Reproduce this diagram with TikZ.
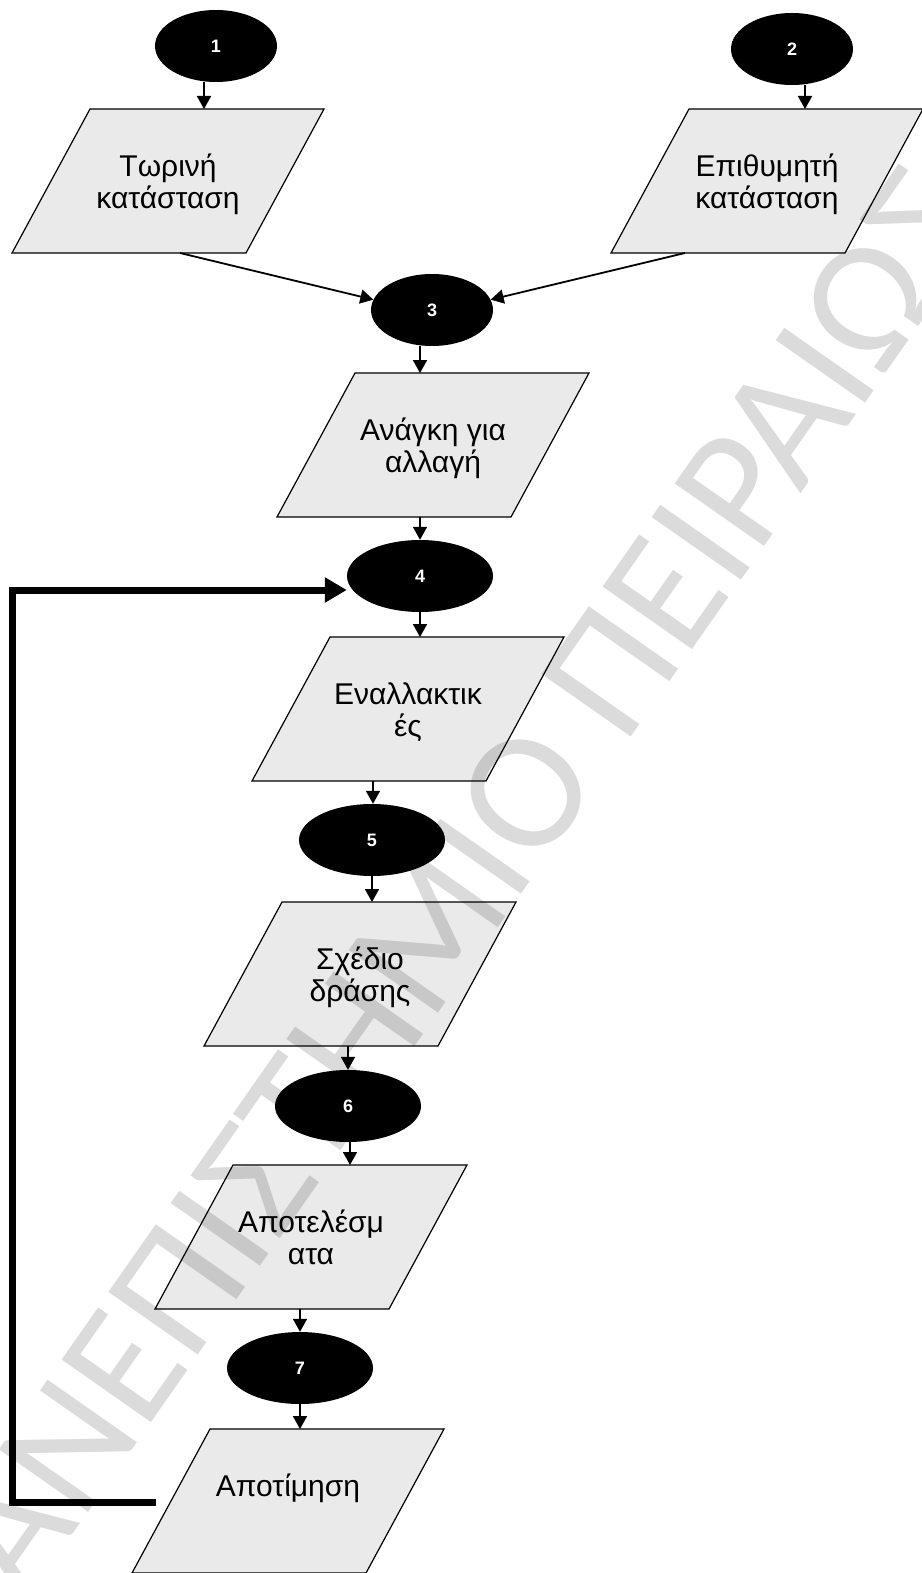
\documentclass[tikz,border=0pt]{standalone}
\usepackage{fontspec}
\setmainfont{Liberation Sans}
\newfontfamily\wmfont{Carlito}
\usetikzlibrary{arrows.meta,shapes.geometric}
\definecolor{parafill}{RGB}{234,234,234}

\tikzset{
  parabox/.style={draw=black, line width=1.2pt, fill=parafill, line join=miter},
  paratext/.style={anchor=north, align=center, inner sep=0pt, font=\fontsize{30}{32}\selectfont},
  numnode/.style={ellipse, fill=black, inner sep=0pt, text=white, font=\bfseries\fontsize{18}{18}\selectfont},
  smallnum/.style={numnode, minimum width=122pt, minimum height=72pt},
  widenum/.style={numnode, minimum width=146pt, minimum height=72pt},
  arr/.style={line width=1.8pt, -{Triangle[length=13pt,width=14pt]}},
  looparr/.style={line width=7pt, line join=miter, -{Triangle[length=22pt,width=24pt]}},
  watermark/.style={font=\wmfont\fontsize{170}{170}\selectfont, text=black, text opacity=0.14, rotate=55, inner sep=0pt}
}

% parallelogram box: name, top-left x, top y, text
\newcommand{\flowpara}[4]{%
  \draw[parabox] (#2,#3) -- ++(234,0) -- ++(-78,144) -- ++(-234,0) -- cycle;
  \node[paratext] (#1) at (#2+78,#3+43) {\rule{0pt}{24pt}#4};
}

\begin{document}
\begin{tikzpicture}[x=1pt,y=-1pt]
\useasboundingbox (0,0) rectangle (921,1573);

% input/output boxes
\flowpara{P1}{90}{109}{Τωρινή\\κατάσταση}
\flowpara{P2}{689}{109}{Επιθυμητή\\κατάσταση}
\flowpara{P3}{355}{373}{Ανάγκη για\\αλλαγή}
\flowpara{P4}{330}{637}{Εναλλακτικ\\ές}
\flowpara{P5}{282}{902}{Σχέδιο\\δράσης}
\flowpara{P6}{233}{1165}{Αποτελέσμ\\ατα}
\flowpara{P7}{210}{1429}{Αποτίμηση}

% connector points on the boxes
\coordinate (P1in)  at (204,109);
\coordinate (P1out) at (180,253);
\coordinate (P2in)  at (805,109);
\coordinate (P2out) at (685,253);
\coordinate (P3in)  at (420,373);
\coordinate (P3out) at (420,517);
\coordinate (P4in)  at (420,637);
\coordinate (P4out) at (373,781);
\coordinate (P5in)  at (372,902);
\coordinate (P5out) at (348,1046);
\coordinate (P6in)  at (350,1165);
\coordinate (P6out) at (300,1309);
\coordinate (P7in)  at (300,1429);
\coordinate (fbstart) at (156,1502);
\coordinate (fbleft)  at (12,1502);

% numbered steps
\node[smallnum] (E1) at (216,46) {1};
\node[smallnum] (E2) at (792,49) {2};
\node[smallnum] (E3) at (432,310) {3};
\node[widenum]  (E4) at (420,576) {4};
\node[widenum]  (E5) at (372,840) {5};
\node[widenum]  (E6) at (348,1106) {6};
\node[widenum]  (E7) at (300,1368) {7};

% connectors
\draw[arr] (P1in |- E1.south) -- (P1in);
\draw[arr] (P2in |- E2.south) -- (P2in);
\draw[arr] (P1out) -- (E3.170);
\draw[arr] (P2out) -- (E3.10);
\draw[arr] (P3in |- E3.south) -- (P3in);
\draw[arr] (P3out) -- (P3out |- E4.north);
\draw[arr] (P4in |- E4.south) -- (P4in);
\draw[arr] (P4out) -- (P4out |- E5.north);
\draw[arr] (P5in |- E5.south) -- (P5in);
\draw[arr] (P5out) -- (P5out |- E6.north);
\draw[arr] (P6in |- E6.south) -- (P6in);
\draw[arr] (P6out) -- (P6out |- E7.north);
\draw[arr] (P7in |- E7.south) -- (P7in);

% feedback loop from evaluation back to step 4
\draw[looparr] (fbstart) -- (fbleft) |- ([yshift=-14pt]E4.west);

% diagonal watermark
\node[watermark] (wm) at (433,925) {ΠΑΝΕΠΙΣΤΗΜΙΟ ΠΕΙΡΑΙΩΣ};
\end{tikzpicture}
\end{document}
